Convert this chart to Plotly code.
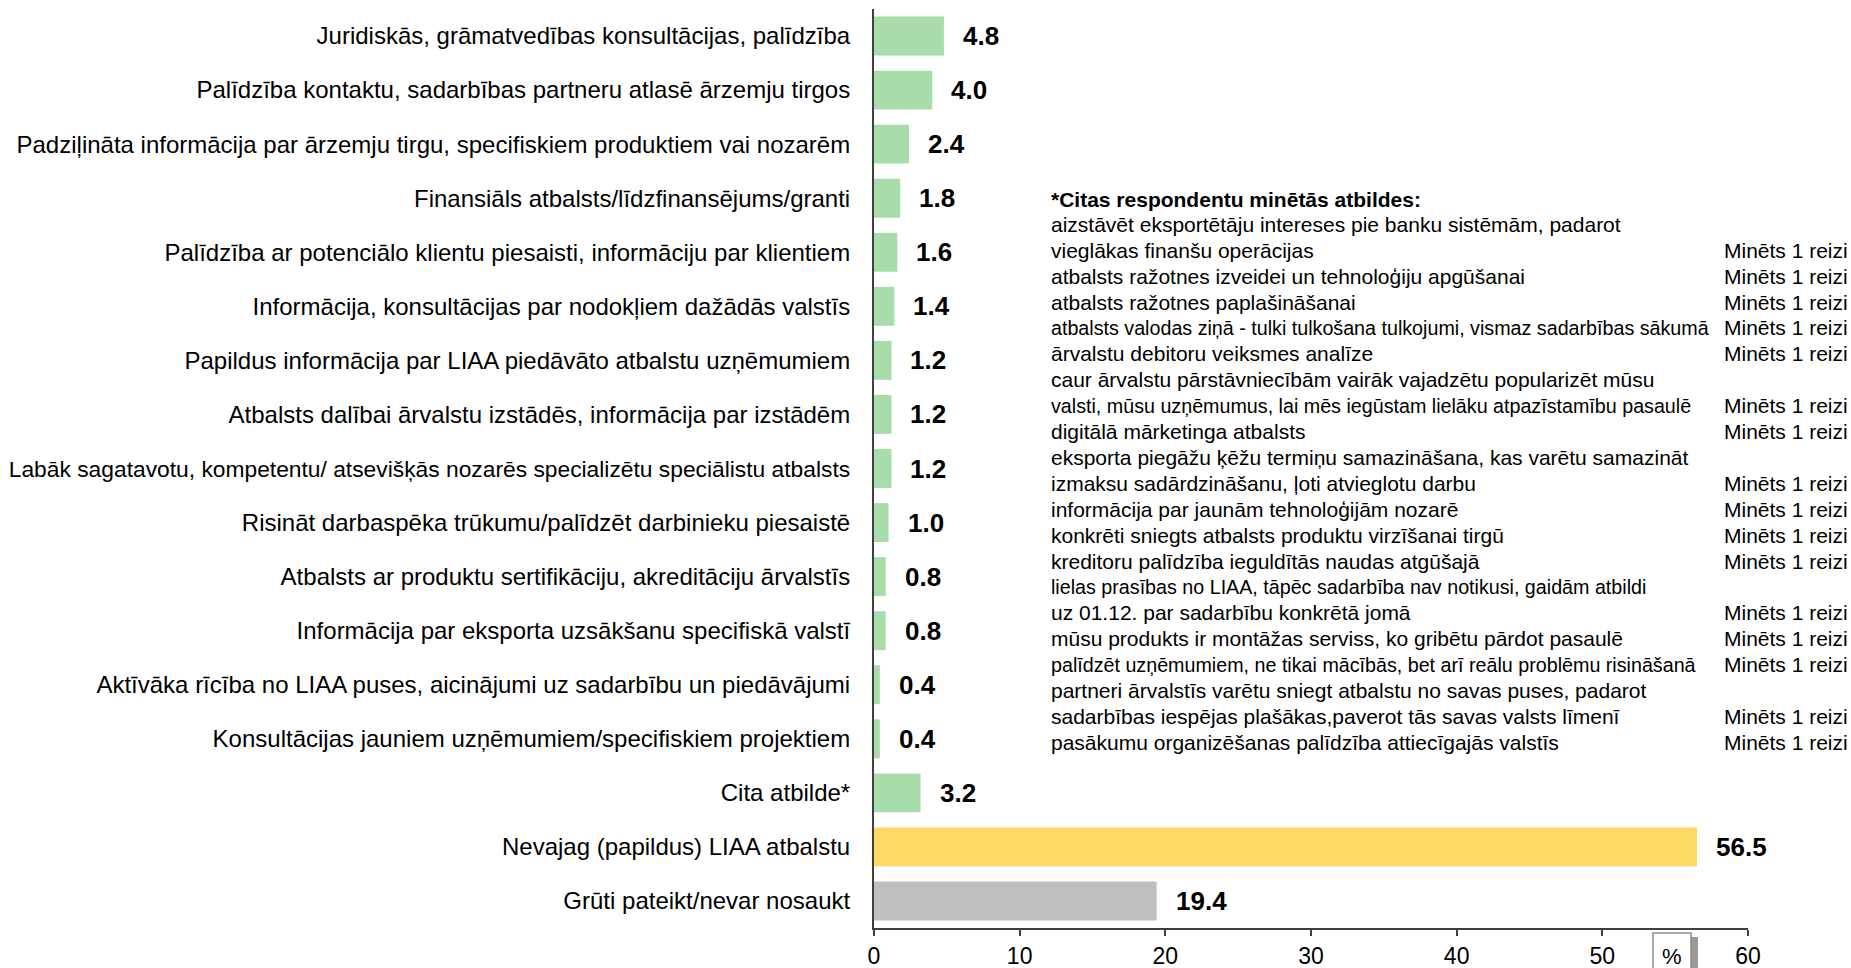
import plotly.graph_objects as go

# Survey answers, top to bottom, with their shares in %
categories = [
    "Juridiskās, grāmatvedības konsultācijas, palīdzība",
    "Palīdzība kontaktu, sadarbības partneru atlasē ārzemju tirgos",
    "Padziļināta informācija par ārzemju tirgu, specifiskiem produktiem vai nozarēm",
    "Finansiāls atbalsts/līdzfinansējums/granti",
    "Palīdzība ar potenciālo klientu piesaisti, informāciju par klientiem",
    "Informācija, konsultācijas par nodokļiem dažādās valstīs",
    "Papildus informācija par LIAA piedāvāto atbalstu uzņēmumiem",
    "Atbalsts dalībai ārvalstu izstādēs, informācija par izstādēm",
    "Labāk sagatavotu, kompetentu/ atsevišķās nozarēs specializētu speciālistu atbalsts",
    "Risināt darbaspēka trūkumu/palīdzēt darbinieku piesaistē",
    "Atbalsts ar produktu sertifikāciju, akreditāciju ārvalstīs",
    "Informācija par eksporta uzsākšanu specifiskā valstī",
    "Aktīvāka rīcība no LIAA puses, aicinājumi uz sadarbību un piedāvājumi",
    "Konsultācijas jauniem uzņēmumiem/specifiskiem projektiem",
    "Cita atbilde*",
    "Nevajag (papildus) LIAA atbalstu",
    "Grūti pateikt/nevar nosaukt",
]
values = [4.8, 4.0, 2.4, 1.8, 1.6, 1.4, 1.2, 1.2, 1.2, 1.0, 0.8, 0.8, 0.4, 0.4, 3.2, 56.5, 19.4]

GREEN, YELLOW, GREY = "#A9DCAB", "#FFD966", "#BFBFBF"
bar_colors = [GREEN] * 15 + [YELLOW, GREY]

x_ticks = [0, 10, 20, 30, 40, 50, 60]

# Other answers listed in the side note: (text, mention count shown on that line)
other_title = "*Citas respondentu minētās atbildes:"
other_lines = [
    ("aizstāvēt eksportētāju intereses pie banku sistēmām, padarot", ""),
    ("vieglākas finanšu operācijas", "Minēts 1 reizi"),
    ("atbalsts ražotnes izveidei un tehnoloģiju apgūšanai", "Minēts 1 reizi"),
    ("atbalsts ražotnes paplašināšanai", "Minēts 1 reizi"),
    ("atbalsts valodas ziņā - tulki tulkošana tulkojumi, vismaz sadarbības sākumā", "Minēts 1 reizi"),
    ("ārvalstu debitoru veiksmes analīze", "Minēts 1 reizi"),
    ("caur ārvalstu pārstāvniecībām vairāk vajadzētu popularizēt mūsu", ""),
    ("valsti, mūsu uzņēmumus, lai mēs iegūstam lielāku atpazīstamību pasaulē", "Minēts 1 reizi"),
    ("digitālā mārketinga atbalsts", "Minēts 1 reizi"),
    ("eksporta piegāžu ķēžu termiņu samazināšana, kas varētu samazināt", ""),
    ("izmaksu sadārdzināšanu, ļoti atvieglotu darbu", "Minēts 1 reizi"),
    ("informācija par jaunām tehnoloģijām nozarē", "Minēts 1 reizi"),
    ("konkrēti sniegts atbalsts produktu virzīšanai tirgū", "Minēts 1 reizi"),
    ("kreditoru palīdzība ieguldītās naudas atgūšajā", "Minēts 1 reizi"),
    ("lielas prasības no LIAA, tāpēc sadarbība nav notikusi, gaidām atbildi", ""),
    ("uz 01.12. par sadarbību konkrētā jomā", "Minēts 1 reizi"),
    ("mūsu produkts ir montāžas serviss, ko gribētu pārdot pasaulē", "Minēts 1 reizi"),
    ("palīdzēt uzņēmumiem, ne tikai mācībās, bet arī reālu problēmu risināšanā", "Minēts 1 reizi"),
    ("partneri ārvalstīs varētu sniegt atbalstu no savas puses, padarot", ""),
    ("sadarbības iespējas plašākas,paverot tās savas valsts līmenī", "Minēts 1 reizi"),
    ("pasākumu organizēšanas palīdzība attiecīgajās valstīs", "Minēts 1 reizi"),
]

FONT = "Liberation Sans, Arial, sans-serif"
W, H = 1851, 968
ML, MR, MT, MB = 874, 103, 9, 40
PW, PH = W - ML - MR, H - MT - MB
NOTE_SIZE = 21
LONG_NOTE_SIZE = 19.7
LONG_LINE_CHARS = 66  # longer note lines are set tighter so they clear the count column


def px_x(px):
    return (px - ML) / PW


def px_y(py):
    return (H - MB - py) / PH


def tick_label(text):
    # the longest answer is set slightly smaller so it stays inside the page
    if len(text) > 80:
        return f'<span style="font-size:22.8px">{text}</span>'
    return text


fig = go.Figure(
    go.Bar(
        x=values,
        y=categories,
        orientation="h",
        marker=dict(color=bar_colors, line=dict(width=0)),
        hoverinfo="skip",
    )
)

annotations = []
# value labels next to the bar ends
for cat, v in zip(categories, values):
    annotations.append(dict(
        x=v, y=cat, xref="x", yref="y", text=f"<b>{v:.1f}</b>",
        showarrow=False, xanchor="left", yanchor="middle", xshift=17,
        font=dict(family=FONT, size=26, color="#000000"),
    ))

# side note with the other answers
annotations.append(dict(
    x=px_x(1049), y=px_y(199.5), xref="paper", yref="paper",
    text=f"<b>{other_title}</b>", showarrow=False, xanchor="left", yanchor="middle",
    font=dict(family=FONT, size=NOTE_SIZE, color="#000000"),
))
line_y0, line_step = 190 * 1.1805, 21.95 * 1.1805
for i, (txt, count) in enumerate(other_lines):
    yy = px_y(line_y0 + i * line_step)
    size = LONG_NOTE_SIZE if len(txt) > LONG_LINE_CHARS else NOTE_SIZE
    annotations.append(dict(
        x=px_x(1049), y=yy, xref="paper", yref="paper", text=txt,
        showarrow=False, xanchor="left", yanchor="middle",
        font=dict(family=FONT, size=size, color="#000000"),
    ))
    if count:
        annotations.append(dict(
            x=px_x(1722), y=yy, xref="paper", yref="paper", text=count,
            showarrow=False, xanchor="left", yanchor="middle",
            font=dict(family=FONT, size=NOTE_SIZE, color="#000000"),
        ))

# unit box below the axis
annotations.append(dict(
    x=px_x(1672), y=px_y(956), xref="paper", yref="paper", text="%",
    showarrow=False, xanchor="center", yanchor="middle",
    font=dict(family=FONT, size=22, color="#000000"),
))

shapes = [
    dict(type="rect", xref="paper", yref="paper",
         x0=px_x(1691), x1=px_x(1698), y0=px_y(990), y1=px_y(937),
         fillcolor="#9a9a9a", line=dict(width=0), layer="above"),
    dict(type="rect", xref="paper", yref="paper",
         x0=px_x(1653), x1=px_x(1691), y0=px_y(990), y1=px_y(933),
         fillcolor="#ffffff", line=dict(color="#8c8c8c", width=1.5), layer="above"),
]

fig.update_layout(
    width=W, height=H,
    margin=dict(l=ML, r=MR, t=MT, b=MB, pad=0),
    paper_bgcolor="#ffffff", plot_bgcolor="#ffffff",
    bargap=0.28,
    showlegend=False,
    font=dict(family=FONT, size=24, color="#000000"),
    annotations=annotations,
    shapes=shapes,
    xaxis=dict(
        range=[0, 60], tickvals=x_ticks, ticktext=[str(t) for t in x_ticks],
        showgrid=False, zeroline=False, automargin=False,
        showline=True, linecolor="#404040", linewidth=2,
        ticks="outside", ticklen=6, tickwidth=2, tickcolor="#404040",
        ticklabelstandoff=0,
        tickfont=dict(family=FONT, size=23, color="#000000"),
        fixedrange=True,
    ),
    yaxis=dict(
        autorange="reversed", showgrid=False, zeroline=False, automargin=False,
        tickmode="array", tickvals=categories,
        ticktext=[tick_label(c) for c in categories],
        showline=True, linecolor="#404040", linewidth=2,
        ticks="", ticklabelstandoff=17,
        tickfont=dict(family=FONT, size=24, color="#000000"),
        fixedrange=True,
    ),
)

fig.write_html("out.html")
